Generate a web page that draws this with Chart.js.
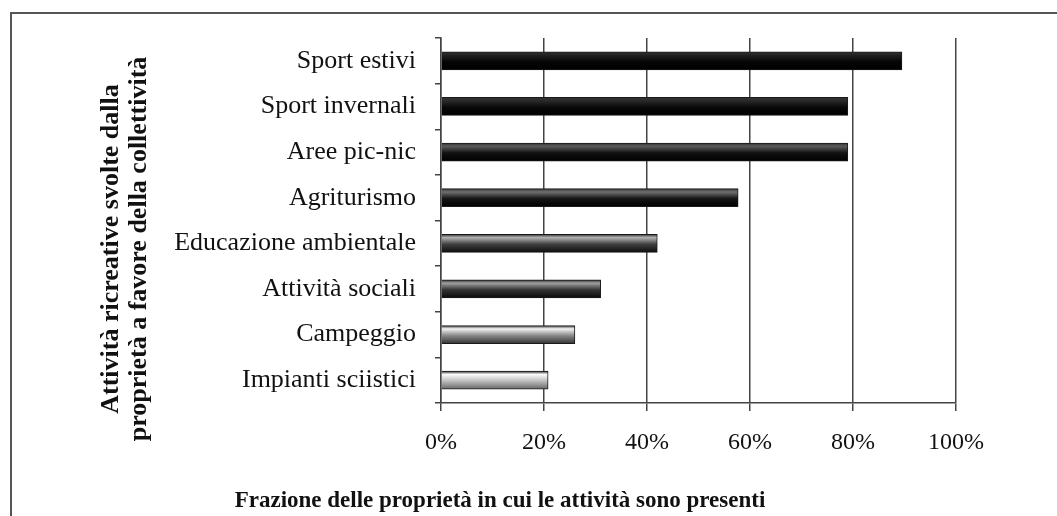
<!DOCTYPE html>
<html>
<head>
<meta charset="utf-8">
<script src="https://cdn.jsdelivr.net/npm/chart.js@4.4.1/dist/chart.umd.min.js"></script>
<style>
  html, body { margin: 0; padding: 0; background: #fff; }
  #wrap { width: 1057px; height: 516px; position: relative; }
</style>
</head>
<body>
<div id="wrap"><canvas id="c"></canvas></div>
<script>
// ---- data ----
const categories = [
  'Sport estivi',
  'Sport invernali',
  'Aree pic-nic',
  'Agriturismo',
  'Educazione ambientale',
  'Attività sociali',
  'Campeggio',
  'Impianti sciistici'
];
const values = [89.5, 79, 79, 57.7, 42, 31, 26, 20.8];
const xTickLabels = ['0%', '20%', '40%', '60%', '80%', '100%'];
const yTitleLines = ['Attività ricreative svolte dalla', 'proprietà a favore della collettività'];
const xTitle = 'Frazione delle proprietà in cui le attività sono presenti';

// ---- styles (per bar shading: top highlight, middle, bottom) ----
const barShades = [
  ['#222', '#050505', '#000'],
  ['#2a2a2a', '#080808', '#000'],
  ['#5a5a5a', '#111', '#000'],
  ['#707070', '#151515', '#000'],
  ['#b0b0b0', '#404040', '#0d0d0d'],
  ['#a0a0a0', '#333', '#0a0a0a'],
  ['#f4f4f4', '#8a8a8a', '#333'],
  ['#fbfbfb', '#bdbdbd', '#666']
];
const BAR_T = 18;

function shade(ctx) {
  const chart = ctx.chart;
  const s = barShades[ctx.dataIndex] || barShades[0];
  const y = chart.scales && chart.scales.y;
  if (!y || !chart.chartArea || ctx.dataIndex === undefined) return s[1];
  const c = y.getPixelForValue(ctx.dataIndex);
  const g = chart.ctx.createLinearGradient(0, c - BAR_T / 2, 0, c + BAR_T / 2);
  g.addColorStop(0, '#333');
  g.addColorStop(0.18, s[0]);
  g.addColorStop(0.55, s[1]);
  g.addColorStop(1, s[2]);
  return g;
}

const decor = {
  id: 'decor',
  afterDraw(chart) {
    const c = chart.ctx;
    c.save();
    // frame (top and left edges visible)
    c.strokeStyle = '#555';
    c.lineWidth = 2;
    c.beginPath();
    c.moveTo(11, 516);
    c.lineTo(11, 13);
    c.lineTo(1057, 13);
    c.stroke();
    // y title (rotated, two lines, centred)
    c.fillStyle = '#111';
    c.font = 'bold 26px "Liberation Serif", "Times New Roman", serif';
    c.textBaseline = 'middle';
    c.textAlign = 'center';
    const xs = [111, 139];
    yTitleLines.forEach((t, i) => {
      c.save();
      c.translate(xs[i], 249);
      c.rotate(-Math.PI / 2);
      c.fillText(t, 0, 0);
      c.restore();
    });
    // x title
    c.font = 'bold 23px "Liberation Serif", "Times New Roman", serif';
    c.textAlign = 'center';
    c.textBaseline = 'alphabetic';
    c.fillText(xTitle, 500, 507);
    c.restore();
  }
};

new Chart(document.getElementById('c'), {
  type: 'bar',
  data: {
    labels: categories,
    datasets: [{
      data: values,
      backgroundColor: shade,
      borderColor: '#1a1a1a',
      borderWidth: 1,
      borderSkipped: 'start',
      barThickness: BAR_T
    }]
  },
  options: {
    indexAxis: 'y',
    responsive: true,
    maintainAspectRatio: false,
    animation: false,
    devicePixelRatio: 1,
    layout: { padding: { top: 38, right: 101, left: 0, bottom: 0 } },
    plugins: {
      legend: { display: false },
      tooltip: { enabled: false },
      title: { display: false }
    },
    scales: {
      x: {
        min: 0,
        max: 100,
        ticks: {
          stepSize: 20,
          padding: 17,
          color: '#111',
          font: { family: '"Liberation Serif", "Times New Roman", serif', size: 24 },
          callback: (v, i) => xTickLabels[i]
        },
        grid: { color: '#444', lineWidth: 1.5, tickLength: 8, drawTicks: true },
        border: { color: '#444', width: 1.5 },
        afterFit: (s) => { s.height = 113; }
      },
      y: {
        offset: true,
        ticks: {
          padding: 19,
          color: '#111',
          font: { family: '"Liberation Serif", "Times New Roman", serif', size: 26 }
        },
        grid: { offset: true, drawOnChartArea: false, color: '#444', lineWidth: 1.5, tickLength: 6 },
        border: { color: '#444', width: 1.5 },
        afterFit: (s) => { s.width = 441; }
      }
    }
  },
  plugins: [decor]
});
</script>
</body>
</html>
